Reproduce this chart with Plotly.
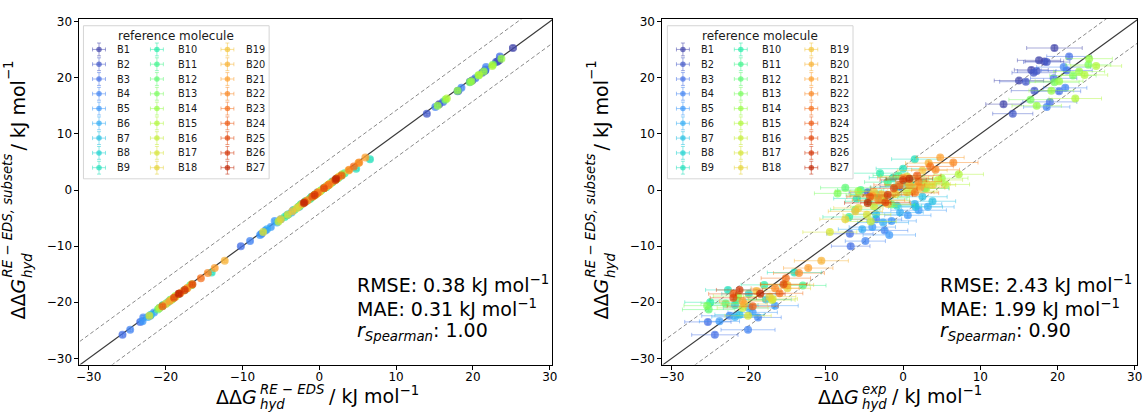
import numpy as np
import plotly.graph_objects as go

W, H = 1146, 414
FONT = "DejaVu Sans"

# ---------------- data ----------------
molecules = ["B1", "B2", "B3", "B4", "B5", "B6", "B7", "B8", "B9",
             "B10", "B11", "B12", "B13", "B14", "B15", "B16", "B17", "B18",
             "B19", "B20", "B21", "B22", "B23", "B24", "B25", "B26", "B27"]

n_per_ref = [7, 7, 9, 9, 8, 7, 6, 6, 7, 7, 7, 6, 8, 9, 7, 6, 7, 7, 6, 6, 6, 6, 5, 4, 4, 3, 3]

# ddG_hyd (RE-EDS, subsets)  -> y of both panels
dg_subsets = [
    25.3, 23.1, 22.9, 21.4, 19.5, 15.3, 0.6,                 # B1
    22.8, 21.2, 20.9, 19.3, 17.7, 13.6, -0.4,                # B2
    23.8, 21.3, 19.9, 17.6, 15.7, -7.8, -10.0, -23.5, -25.8, # B3
    21.9, 18.2, 14.8, -5.2, -7.2, -9.1, -22.4, -24.9, -22.7, # B4
    -3.6, -5.5, -6.6, -8.0, -4.5, -20.6, -21.8, -23.4,       # B5
    -2.5, -4.0, -5.8, -7.0, -3.0, -21.0, -22.6,              # B6
    -1.2, -3.0, -4.3, -2.0, -19.5, -22.2,                    # B7
    1.5, -0.8, -2.8, 0.3, -18.5, -20.5,                      # B8
    5.5, 3.8, 2.2, -1.5, 0.9, -14.7, -17.8,                  # B9
    3.0, 0.5, -2.0, -4.8, 1.9, -16.9, -20.0,                 # B10
    2.6, 0.0, -1.6, -3.5, 1.4, -17.0, -19.6,                 # B11
    1.2, -0.9, -2.6, 0.4, -20.2, -21.3,                      # B12
    22.3, 20.4, 19.2, 16.1, 0.8, -1.3, -0.6, -20.6,          # B13
    23.4, 21.1, 19.4, 17.7, 15.0, 2.1, -0.2, -1.0, -18.9,    # B14
    22.1, 20.5, 16.3, 2.8, 0.3, 1.0, -16.8,                  # B15
    1.8, -0.4, -2.9, -5.6, -19.6, -21.0,                     # B16
    0.9, -1.9, -4.4, -7.5, -0.2, -19.4, -22.4,               # B17
    2.4, -0.7, -3.2, -5.2, 1.1, -17.5, -19.0,                # B18
    3.5, -0.3, -3.8, 0.7, -18.0, -20.3,                      # B19
    4.8, 1.0, -2.5, -0.8, -16.9, -12.6,                      # B20
    5.8, 2.2, -1.0, 0.4, -13.9, -19.8,                       # B21
    4.9, 1.5, -1.8, 3.6, -14.8, -17.5,                       # B22
    4.2, 0.9, -0.5, -15.7, -18.4,                            # B23
    2.6, -1.2, -18.5, -20.7,                                 # B24
    0.3, -2.2, -16.8, -19.2,                                 # B25
    1.8, -0.9, -17.8,                                        # B26
    2.0, -2.3, -18.5,                                        # B27
]

# ddG_hyd (RE-EDS, full)  -> x of left panel
dg_reeds = [
    25.2, 23.4, 23.2, 21.6, 19.9, 15.6, 0.9,
    23.0, 21.5, 21.2, 19.6, 18.1, 14.0, -0.2,
    23.5, 21.6, 20.3, 18.0, 16.1, -7.5, -10.2, -23.3, -25.6,
    21.7, 18.5, 15.1, -5.0, -7.0, -9.0, -22.0, -24.6, -22.9,
    -3.4, -5.8, -6.3, -7.7, -4.2, -20.4, -21.5, -23.0,
    -2.3, -3.6, -5.5, -6.8, -2.6, -20.8, -22.3,
    -1.0, -2.7, -4.0, -1.7, -19.2, -21.9,
    1.7, -0.5, -2.5, 0.6, -18.2, -20.3,
    6.6, 4.8, 2.5, -1.2, 1.2, -14.0, -17.5,
    3.3, 0.9, -1.8, -4.5, 2.2, -16.6, -19.7,
    2.9, 0.3, -1.2, -3.2, 1.7, -16.8, -19.4,
    1.5, -0.6, -2.4, 0.7, -19.9, -21.0,
    22.6, 20.7, 19.6, 16.4, 1.1, -1.0, -0.3, -20.4,
    23.7, 21.4, 19.8, 18.0, 15.4, 2.4, 0.1, -0.7, -18.7,
    22.5, 20.8, 16.6, 3.0, 0.6, 1.3, -16.6,
    2.1, -0.1, -2.6, -5.3, -19.3, -20.8,
    1.2, -1.6, -4.1, -7.3, 0.1, -19.1, -22.1,
    2.6, -0.4, -2.9, -5.0, 1.4, -17.2, -18.7,
    3.8, 0.0, -3.5, 1.0, -17.7, -20.0,
    5.1, 1.3, -2.2, -0.5, -16.6, -12.3,
    6.0, 2.4, -0.7, 0.7, -13.6, -19.5,
    5.2, 1.8, -1.5, 3.9, -14.5, -17.2,
    4.5, 1.2, -0.2, -15.4, -18.1,
    2.9, -0.9, -18.2, -20.4,
    0.6, -1.9, -16.5, -18.9,
    2.1, -0.6, -17.5,
    2.2, -2.0, -18.3,
]

# ddG_hyd (experiment)  -> x of right panel
dg_exp = [
    19.6, 17.6, 18.3, 16.6, 15.0, 13.0, -0.5,
    18.6, 17.3, 16.9, 15.9, 17.0, 14.2, -4.6,
    21.5, 21.2, 19.5, 20.2, 19.0, -6.9, -6.8, -25.3, -24.4,
    20.8, 21.0, 18.6, -3.5, -2.4, -4.9, -22.5, -20.1, -18.8,
    2.0, -1.5, -4.0, -1.8, 0.6, -16.6, -19.5, -23.8,
    1.5, -0.4, -2.6, -5.3, 3.2, -20.0, -21.8,
    2.5, 1.6, -3.5, 3.8, -17.8, -21.2,
    0.2, -3.5, -0.8, 2.8, -20.0, -21.8,
    1.5, 0.0, -1.3, -6.0, 1.0, -14.1, -22.7,
    -3.0, -1.0, -4.5, -7.0, 0.8, -18.0, -25.0,
    -0.6, -5.5, -3.0, -6.2, -2.0, -13.0, -21.6,
    2.6, -4.0, -1.5, -7.5, -23.0, -25.2,
    24.0, 22.0, 19.6, 16.5, 0.8, -2.5, -8.5, -25.4,
    24.1, 22.8, 20.2, 19.2, 17.3, 5.0, -5.8, -3.6, -21.4,
    25.0, 23.5, 22.3, 7.2, 3.0, 5.5, -15.3,
    4.5, 0.5, -3.8, -4.2, -17.0, -20.8,
    3.8, -2.5, -4.7, -9.5, 1.2, -16.9, -20.1,
    0.5, -1.0, -5.8, -7.5, 3.0, -15.0, -17.3,
    2.5, -3.8, -6.2, 1.8, -19.0, -20.6,
    3.3, 0.8, -2.0, -2.8, -15.0, -10.6,
    4.8, 0.0, -4.0, 2.2, -12.3, -20.8,
    6.5, 2.0, -3.2, 4.2, -13.5, -16.6,
    3.5, -0.5, 1.5, -15.2, -16.0,
    1.8, -4.3, -22.0, -19.5,
    -1.2, -2.3, -15.5, -22.0,
    0.0, -2.0, -21.2,
    0.8, -4.6, -18.5,
]

# experimental uncertainty (x error, right panel)
err_exp = [
    3.6, 2.8, 2.5, 2.2, 3.2, 2.3, 2.5,
    3.0, 2.5, 2.8, 3.4, 3.0, 2.6, 2.4,
    2.9, 3.3, 3.0, 2.8, 3.5, 3.0, 2.5, 3.0, 3.0,
    3.5, 2.8, 3.0, 3.3, 3.0, 2.6, 3.6, 3.5, 3.0,
    3.6, 3.2, 3.0, 3.4, 3.0, 3.0, 3.2, 2.6,
    3.5, 3.0, 3.3, 3.1, 3.4, 3.3, 3.0,
    3.2, 3.5, 3.0, 3.0, 3.3, 3.2,
    3.0, 3.3, 3.2, 3.1, 3.5, 3.0,
    3.0, 3.5, 3.1, 3.0, 3.3, 3.5, 2.9,
    3.6, 3.2, 3.0, 3.4, 3.1, 3.0, 3.3,
    3.3, 3.0, 3.5, 3.2, 3.0, 3.0, 3.5,
    3.0, 3.4, 3.0, 3.2, 3.2, 3.4,
    2.9, 3.0, 3.2, 2.8, 3.0, 3.3, 3.0, 3.0,
    3.0, 3.3, 3.1, 2.9, 3.2, 3.4, 3.0, 3.2, 3.2,
    3.3, 3.0, 3.4, 3.2, 3.0, 3.1, 3.2,
    3.2, 3.5, 3.0, 3.3, 3.0, 3.3,
    3.0, 3.3, 3.1, 3.5, 3.2, 3.2, 3.0,
    3.4, 3.0, 3.2, 3.3, 3.1, 3.0, 3.4,
    3.2, 3.0, 3.5, 3.2, 3.2, 3.0,
    3.0, 3.2, 3.0, 3.3, 3.4, 3.5,
    3.1, 3.3, 3.0, 3.2, 3.2, 3.0,
    3.2, 3.0, 3.4, 3.1, 3.3, 3.1,
    3.0, 3.3, 3.1, 3.2, 3.0,
    3.1, 3.0, 3.2, 3.3,
    3.0, 3.2, 3.0, 3.0,
    3.0, 3.2, 3.0,
    3.0, 3.0, 3.2,
]

# per-reference simulation uncertainties
err_subsets_ref = [0.45, 0.4, 0.4, 0.35, 0.35, 0.3, 0.3, 0.3, 0.35, 0.3, 0.3, 0.3, 0.35, 0.35,
                   0.3, 0.3, 0.3, 0.3, 0.3, 0.3, 0.3, 0.3, 0.3, 0.3, 0.3, 0.3, 0.3]
err_reeds_ref = [0.4, 0.35, 0.35, 0.3, 0.3, 0.3, 0.3, 0.3, 0.3, 0.3, 0.3, 0.3, 0.3, 0.3,
                 0.3, 0.3, 0.3, 0.3, 0.3, 0.3, 0.3, 0.3, 0.3, 0.3, 0.3, 0.3, 0.3]

stats_left = ["RMSE: 0.38 kJ mol<sup>−1</sup>", "MAE: 0.31 kJ mol<sup>−1</sup>",
              "<i>r</i><sub><i>Spearman</i></sub>: 1.00"]
stats_right = ["RMSE: 2.43 kJ mol<sup>−1</sup>", "MAE: 1.99 kJ mol<sup>−1</sup>",
               "<i>r</i><sub><i>Spearman</i></sub>: 0.90"]

tick_vals = [-30, -20, -10, 0, 10, 20, 30]
x_range = [-31.2, 30.3]
y_range = [-31.1, 30.5]
kcal_band = 4.184   # 1 kcal/mol in kJ/mol

# ---------------- colours (turbo) ----------------
TURBO = ["#30123b", "#4145ab", "#4675ed", "#39a2fc", "#1bcfd4", "#24eca6", "#61fc6c",
         "#a4fc3b", "#d1e834", "#f3c63a", "#fe9b2d", "#f36315", "#d93806", "#b11901", "#7a0402"]
turbo_rgb = np.array([[int(h[i:i + 2], 16) for i in (1, 3, 5)] for h in TURBO], float)
turbo_pos = np.linspace(0, 1, len(TURBO))
samples = np.linspace(0.07, 0.9, len(molecules))
colors = [tuple(int(round(np.interp(s, turbo_pos, turbo_rgb[:, k]))) for k in range(3)) for s in samples]


def rgba(c, a):
    return f"rgba({c[0]},{c[1]},{c[2]},{a})"


def px_x(p):
    return p / W


def px_y(p):
    return 1 - p / H


bounds = np.cumsum([0] + n_per_ref)
assert bounds[-1] == len(dg_subsets) == len(dg_reeds) == len(dg_exp) == len(err_exp)

fig = go.Figure()

# reference lines (identity and +/- 1 kcal/mol)
for xa, ya in (("x", "y"), ("x2", "y2")):
    lx = [x_range[0] - 2, x_range[1] + 2]
    fig.add_trace(go.Scatter(x=lx, y=lx, mode="lines", xaxis=xa, yaxis=ya,
                             line=dict(color="#3a3a3a", width=1.2), showlegend=False, hoverinfo="skip"))
    for sgn in (1, -1):
        fig.add_trace(go.Scatter(x=lx, y=[v + sgn * kcal_band for v in lx], mode="lines",
                                 xaxis=xa, yaxis=ya, line=dict(color="#8a8a8a", width=1, dash="4px,2.5px"),
                                 showlegend=False, hoverinfo="skip"))

MS = 8
for i, name in enumerate(molecules):
    a, b = bounds[i], bounds[i + 1]
    ys = dg_subsets[a:b]
    n = len(ys)
    c = colors[i]
    ey = dict(type="data", array=[err_subsets_ref[i]] * n, color=rgba(c, 0.5), thickness=1, width=2)
    # left: RE-EDS full vs subsets
    fig.add_trace(go.Scatter(
        x=dg_reeds[a:b], y=ys, mode="markers", xaxis="x", yaxis="y", name=name,
        marker=dict(size=MS, color=rgba(c, 0.7), line=dict(width=0)),
        error_x=dict(type="data", array=[err_reeds_ref[i]] * n, color=rgba(c, 0.5), thickness=1, width=2),
        error_y=ey, showlegend=False))
    # right: experiment vs subsets
    fig.add_trace(go.Scatter(
        x=dg_exp[a:b], y=ys, mode="markers", xaxis="x2", yaxis="y2", name=name,
        marker=dict(size=MS, color=rgba(c, 0.7), line=dict(width=0)),
        error_x=dict(type="data", array=err_exp[a:b], color=rgba(c, 0.45), thickness=1, width=2),
        error_y=ey, showlegend=False))

# ---------------- custom matplotlib-like legends ----------------
LEG_W, LEG_H = 187, 155
col_marker = [15.7, 74.0, 145.0]
col_text = [32.0, 93.5, 162.0]
row0, row_step = 24.0, 14.96
annotations = []
shapes = []
for la in ("3", "4"):
    xa, ya = "x" + la, "y" + la
    shapes.append(dict(type="rect", xref=xa, yref=ya, x0=0, x1=LEG_W, y0=0, y1=LEG_H,
                       line=dict(color="#d4d4d4", width=1), fillcolor="rgba(255,255,255,0.85)",
                       layer="below"))
    annotations.append(dict(text="reference molecule", xref=xa, yref=ya, x=LEG_W / 2, y=10,
                            showarrow=False, xanchor="center", yanchor="middle",
                            font=dict(size=12, family=FONT, color="#1a1a1a")))
    for i, name in enumerate(molecules):
        col, row = i // 9, i % 9
        yy = row0 + row * row_step
        c = colors[i]
        fig.add_trace(go.Scatter(
            x=[col_marker[col]], y=[yy], mode="markers", xaxis=xa, yaxis=ya,
            marker=dict(size=5.5, color=rgba(c, 0.7)),
            error_x=dict(type="data", array=[6.5], color=rgba(c, 0.5), thickness=1, width=2),
            error_y=dict(type="data", array=[6.5], color=rgba(c, 0.5), thickness=1, width=2),
            showlegend=False, hoverinfo="skip"))
        annotations.append(dict(text=name, xref=xa, yref=ya, x=col_text[col], y=yy, showarrow=False,
                                xanchor="left", yanchor="middle",
                                font=dict(size=9.8, family=FONT, color="#1a1a1a")))

# ---------------- statistics text ----------------
for x0, lines in ((354, stats_left), (942, stats_right)):
    for yy, t in zip((283, 308, 331), lines):
        annotations.append(dict(text=t, xref="paper", yref="paper", x=px_x(x0), y=px_y(yy),
                                xanchor="left", yanchor="middle", showarrow=False,
                                font=dict(size=19, family=FONT, color="black")))


# ---------------- axis titles (stacked sub/superscripts) ----------------
def ann(text, x, y, size, xanchor, yanchor, angle=0):
    annotations.append(dict(text=text, xref="paper", yref="paper", x=px_x(x), y=px_y(y),
                            xanchor=xanchor, yanchor=yanchor, showarrow=False, textangle=angle,
                            borderpad=0, font=dict(size=size, family=FONT, color="black")))


FS, FSS = 19, 13.3
# left x title
ann("ΔΔ<i>G</i>", 257, 397.5, FS, "right", "middle")
ann("<i>RE − EDS</i>", 258, 390, FSS, "left", "middle")
ann("<i>hyd</i>", 258, 405.5, FSS, "left", "middle")
ann("/ kJ mol<sup>−1</sup>", 327, 396, FS, "left", "middle")
# right x title
ann("ΔΔ<i>G</i>", 863, 397.5, FS, "right", "middle")
ann("<i>exp</i>", 864, 390, FSS, "left", "middle")
ann("<i>hyd</i>", 864, 405.5, FSS, "left", "middle")
ann("/ kJ mol<sup>−1</sup>", 894, 396, FS, "left", "middle")
# y titles (rotated)
for dx in (0, 587):
    ann("ΔΔ<i>G</i>", 15 + dx, 320, FS, "center", "bottom", -90)
    ann("<i>RE − EDS, subsets</i>", 5 + dx, 278, FSS, "center", "bottom", -90)
    ann("<i>hyd</i>", 24 + dx, 278, FSS, "center", "bottom", -90)
    ann("/ kJ mol", 15 + dx, 149, FS, "center", "bottom", -90)
    ann("−1", 5 + dx, 78, FSS, "center", "bottom", -90)


def main_axis(domain, anchor, rng, standoff):
    return dict(domain=domain, anchor=anchor, range=rng, tickvals=tick_vals, ticks="outside",
                ticklen=4, tickwidth=1, tickcolor="black", showline=True, linecolor="black",
                linewidth=1, mirror=True, showgrid=False, zeroline=False, ticklabelstandoff=standoff,
                tickfont=dict(size=12, family=FONT, color="black"))


yd = [px_y(365), px_y(15)]
layout = dict(
    width=W, height=H, margin=dict(l=0, r=0, t=0, b=0),
    paper_bgcolor="white", plot_bgcolor="white", showlegend=False,
    font=dict(family=FONT, color="black"),
    xaxis=main_axis([px_x(77), px_x(553)], "y", x_range, -3),
    yaxis=main_axis(yd, "x", y_range, 0),
    xaxis2=main_axis([px_x(664), px_x(1142)], "y2", x_range, -3),
    yaxis2=main_axis(yd, "x2", y_range, 0),
    annotations=annotations, shapes=shapes,
)
for la, lx in (("3", 81), ("4", 669)):
    layout["xaxis" + la] = dict(domain=[px_x(lx - 1), px_x(lx + LEG_W + 1)], anchor="y" + la,
                                range=[-1, LEG_W + 1], visible=False, fixedrange=True)
    layout["yaxis" + la] = dict(domain=[px_y(22 + LEG_H + 1), px_y(22 - 1)], anchor="x" + la,
                                range=[LEG_H + 1, -1], visible=False, fixedrange=True)

fig.update_layout(**layout)
fig.write_html("out.html", config={"displayModeBar": False},
               post_script="document.body.style.margin='0';document.body.style.overflow='hidden';")
